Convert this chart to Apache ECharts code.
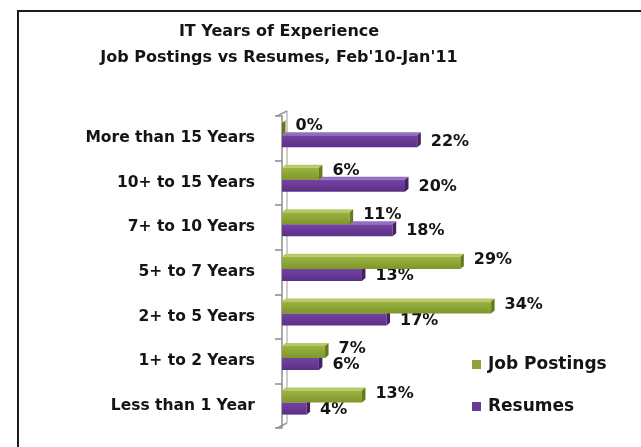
<!DOCTYPE html>
<html>
<head>
<meta charset="utf-8">
<script src="https://cdn.jsdelivr.net/npm/echarts@6/dist/echarts.min.js"></script>
<style>
  html, body { margin: 0; padding: 0; background: #ffffff; }
  #frame { position: absolute; left: 17px; top: 10px; width: 700px; height: 500px;
           border: 2px solid #1c1c1c; box-sizing: border-box; }
  #chart { position: absolute; left: 0; top: 0; width: 641px; height: 447px; }
</style>
</head>
<body>
<div id="frame"></div>
<div id="chart"></div>
<script>
// Experience bands, listed top to bottom as they appear on the axis
const categories = [
  'More than 15 Years',
  '10+ to 15 Years',
  '7+ to 10 Years',
  '5+ to 7 Years',
  '2+ to 5 Years',
  '1+ to 2 Years',
  'Less than 1 Year'
];
// Share of job postings / resumes per band (%)
const jobPostings = [0, 6, 11, 29, 34, 7, 13];
const resumes = [22, 20, 18, 13, 17, 6, 4];
const seriesNames = ['Job Postings', 'Resumes'];

const FONT = '"DejaVu Sans", "Liberation Sans", sans-serif';
const GRID = { left: 282, top: 116, width: 246, height: 312 };
const AXIS_OFFSET = 5;   // front wall sits a little left of the bar origin
const WALL_DEPTH = { dx: 10, dy: 5 };
const BAR_DEPTH = { dx: 3.5, dy: 3 };

const palettes = [
  { front: ['#9bb341', '#7f972a'], top: '#b5ca64', side: '#657a1d', legend: '#8da437' },
  { front: ['#7443a3', '#5b2f86'], top: '#9270bd', side: '#44215f', legend: '#6a3a98' }
];

// Draws one extruded bar (front, top and side faces) plus its value label.
function extrudedBar(slot) {
  const pal = palettes[slot];
  return function (params, api) {
    const v = api.value(0);
    const idx = api.value(1);
    const start = api.coord([0, idx]);
    const end = api.coord([v, idx]);
    const band = api.size([0, 1])[1];
    const h = band * 0.27;
    const c = start[1] - band * 0.07;
    const yTop = slot === 0 ? c - h : c;
    const yBot = yTop + h;
    const x0 = start[0], x1 = end[0];
    const dx = BAR_DEPTH.dx, dy = BAR_DEPTH.dy;
    const labelY = (yTop + yBot) / 2 + (slot === 0 ? -3 : 1);
    return {
      type: 'group',
      children: [
        {
          type: 'polygon',
          shape: { points: [[x0, yTop], [x1, yTop], [x1 + dx, yTop - dy], [x0 + dx, yTop - dy]] },
          style: { fill: pal.top }
        },
        {
          type: 'rect',
          shape: { x: x0, y: yTop, width: Math.max(x1 - x0, 0), height: h },
          style: {
            fill: new echarts.graphic.LinearGradient(0, 0, 0, 1, [
              { offset: 0, color: pal.front[0] },
              { offset: 1, color: pal.front[1] }
            ])
          }
        },
        {
          type: 'polygon',
          shape: { points: [[x1, yTop], [x1, yBot], [x1 + dx, yBot - dy], [x1 + dx, yTop - dy]] },
          style: { fill: pal.side }
        },
        {
          type: 'text',
          x: x1 + dx + 10,
          y: labelY,
          style: {
            text: v + '%',
            fill: '#141414',
            font: 'bold 16px ' + FONT,
            align: 'left',
            verticalAlign: 'middle'
          }
        }
      ]
    };
  };
}

const frontX = GRID.left - AXIS_OFFSET;
const gridBottom = GRID.top + GRID.height;
const wallColor = '#bdbdbd';

const chart = echarts.init(document.getElementById('chart'), null, { renderer: 'canvas' });
chart.setOption({
  backgroundColor: 'transparent',
  animation: false,
  title: {
    text: 'IT Years of Experience\nJob Postings vs Resumes, Feb\'10-Jan\'11',
    left: 279,
    top: 19,
    padding: 0,
    textAlign: 'center',
    textStyle: { fontFamily: FONT, fontWeight: 'bold', fontSize: 16, lineHeight: 26, color: '#141414' }
  },
  legend: {
    orient: 'vertical',
    left: 472,
    top: 356,
    padding: 0,
    itemWidth: 9,
    itemHeight: 9,
    itemGap: 25,
    icon: 'rect',
    data: seriesNames,
    textStyle: { fontFamily: FONT, fontWeight: 'bold', fontSize: 17, color: '#141414', padding: [0, 0, 0, 2] }
  },
  grid: { left: GRID.left, top: GRID.top, width: GRID.width, height: GRID.height },
  xAxis: {
    type: 'value', min: 0, max: 40, show: false
  },
  yAxis: {
    type: 'category',
    data: categories,
    inverse: true,
    offset: AXIS_OFFSET,
    axisLine: { show: true, lineStyle: { color: '#8c8c8c', width: 1.5 } },
    axisTick: { show: true, length: 7, lineStyle: { color: '#8c8c8c', width: 1.5 } },
    axisLabel: {
      margin: 22,
      fontFamily: FONT, fontWeight: 'bold', fontSize: 15.5, color: '#141414'
    }
  },
  graphic: [
    { type: 'line', shape: { x1: frontX + WALL_DEPTH.dx, y1: GRID.top - WALL_DEPTH.dy, x2: frontX + WALL_DEPTH.dx, y2: gridBottom - WALL_DEPTH.dy },
      style: { stroke: wallColor, lineWidth: 1.5 }, z: 0 },
    { type: 'line', shape: { x1: frontX, y1: GRID.top, x2: frontX + WALL_DEPTH.dx, y2: GRID.top - WALL_DEPTH.dy },
      style: { stroke: '#9a9a9a', lineWidth: 1.5 }, z: 0 },
    { type: 'line', shape: { x1: frontX, y1: gridBottom, x2: frontX + WALL_DEPTH.dx, y2: gridBottom - WALL_DEPTH.dy },
      style: { stroke: '#9a9a9a', lineWidth: 1.5 }, z: 0 }
  ],
  series: [
    {
      name: seriesNames[0],
      type: 'custom',
      z: 4,
      itemStyle: { color: palettes[0].legend },
      encode: { x: 0, y: 1 },
      data: jobPostings.map((v, i) => [v, i]),
      renderItem: extrudedBar(0)
    },
    {
      name: seriesNames[1],
      type: 'custom',
      z: 3,
      itemStyle: { color: palettes[1].legend },
      encode: { x: 0, y: 1 },
      data: resumes.map((v, i) => [v, i]),
      renderItem: extrudedBar(1)
    }
  ]
});
</script>
</body>
</html>
